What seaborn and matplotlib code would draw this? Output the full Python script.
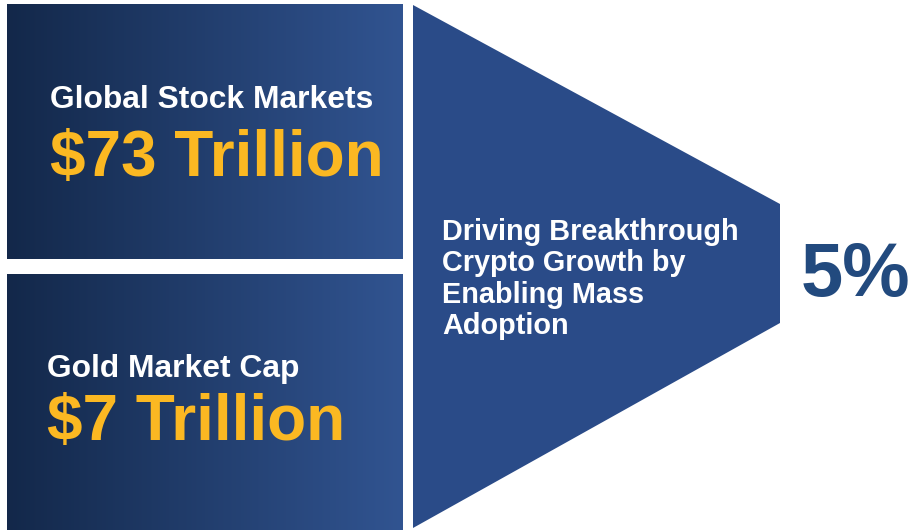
import numpy as np
import matplotlib.pyplot as plt
from matplotlib.patches import Polygon
import seaborn as sns

# chart content
box_titles = ['Global Stock Markets', 'Gold Market Cap']
box_values = ['$73 Trillion', '$7 Trillion']
funnel_lines = ['Driving Breakthrough', 'Crypto Growth by', 'Enabling Mass', 'Adoption']
share_label = '5%'

sns.set_style('white')
plt.rcParams['font.family'] = ['Liberation Sans', 'DejaVu Sans']

W, H = 912, 531
fig = plt.figure(figsize=(W / 100, H / 100), dpi=100)
ax = fig.add_axes([0, 0, 1, 1])
ax.set_xlim(0, W)
ax.set_ylim(H, 0)
ax.axis('off')

# gradient boxes, dark navy on the left to lighter blue on the right
left_c = np.array([19, 40, 74]) / 255
right_c = np.array([49, 84, 145]) / 255
t = np.linspace(0, 1, 256)
grad = (left_c[None, :] * (1 - t[:, None]) + right_c[None, :] * t[:, None])[None, :, :]

boxes = [(7, 403, 4, 259), (7, 403, 274, 530)]
for (x0, x1, y0, y1) in boxes:
    ax.imshow(grad, extent=(x0, x1, y1, y0), aspect='auto', interpolation='bilinear', zorder=1)

# title/value positions (baseline)
title_pos = [(50, 108), (47, 377)]
value_pos = [(50, 176), (47, 440)]
for title, value, tp, vp in zip(box_titles, box_values, title_pos, value_pos):
    ax.text(tp[0], tp[1], title, color='white', fontsize=22.9, fontweight='bold',
            ha='left', va='baseline', zorder=3)
    ax.text(vp[0], vp[1], value, color='#FBB822', fontsize=46, fontweight='bold',
            ha='left', va='baseline', zorder=3)

# funnel shape
funnel = Polygon([(413, 5), (780, 204), (780, 323), (413, 528)], closed=True,
                 facecolor='#2A4B88', edgecolor='none', zorder=1)
ax.add_patch(funnel)

for i, line in enumerate(funnel_lines):
    ax.text(442, 240 + i * 31.3, line, color='white', fontsize=20.8, fontweight='bold',
            ha='left', va='baseline', zorder=3)

ax.text(801, 296, share_label, color='#224A7E', fontsize=54.5, fontweight='bold',
        ha='left', va='baseline', zorder=3)

fig.savefig('out.png', dpi=100, facecolor='white')
